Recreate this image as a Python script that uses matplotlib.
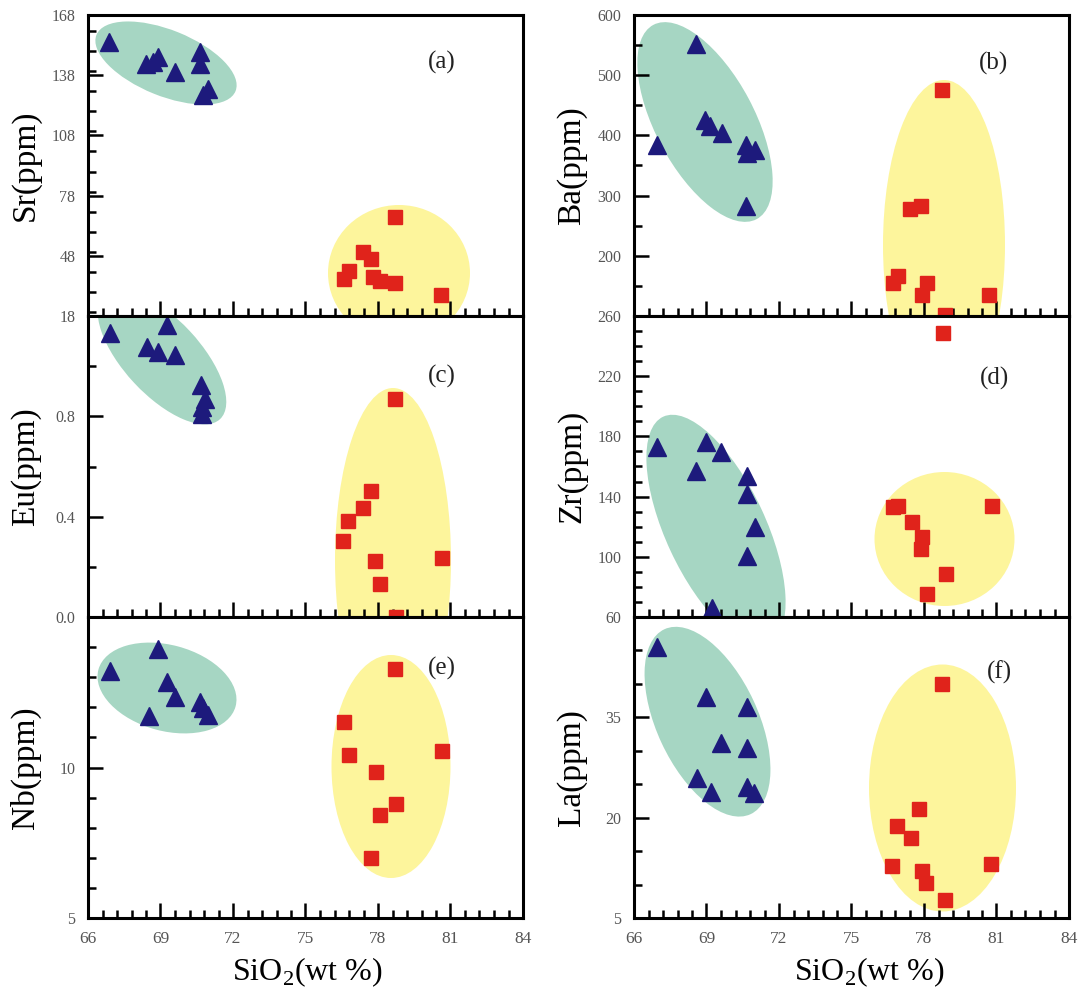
import matplotlib
matplotlib.use("Agg")
import matplotlib.pyplot as plt
from matplotlib.patches import Ellipse
from matplotlib.transforms import Affine2D
from matplotlib.ticker import MultipleLocator
import numpy as np

plt.rcParams['font.family'] = ['Liberation Serif', 'DejaVu Serif']
plt.rcParams['mathtext.fontset'] = 'custom'
plt.rcParams['mathtext.rm'] = 'Liberation Serif'

# ---------------- data (SiO2 wt% vs trace elements, ppm) ----------------
sr_tri_x = [66.86, 68.38, 68.67, 68.88, 69.62, 70.64, 70.64, 70.74, 70.95]
sr_tri_y = [154.7, 143.8, 144.7, 147.2, 139.7, 149.7, 143.8, 128.0, 131.3]
sr_sq_x = [78.70, 77.37, 77.70, 76.80, 76.58, 77.80, 78.08, 78.72, 80.62]
sr_sq_y = [67.2, 49.7, 46.3, 40.5, 36.3, 37.2, 35.5, 34.2, 28.5]

ba_tri_x = [68.57, 66.97, 68.93, 69.14, 69.64, 70.64, 70.69, 71.00, 70.64]
ba_tri_y = [552, 384, 426, 415, 404, 384, 370, 376, 283]
ba_sq_x = [78.74, 77.43, 77.86, 76.93, 76.71, 78.14, 77.93, 80.71, 78.86]
ba_sq_y = [475, 278, 282, 166, 155, 155, 135, 135, 102]

eu_tri_x = [66.91, 68.45, 68.88, 69.27, 69.62, 70.66, 70.85, 70.71, 70.71]
eu_tri_y = [1.131, 1.077, 1.057, 1.164, 1.044, 0.924, 0.871, 0.837, 0.811]
eu_sq_x = [78.70, 77.70, 77.37, 76.76, 76.56, 77.87, 78.08, 80.65, 78.75]
eu_sq_y = [0.869, 0.504, 0.435, 0.384, 0.304, 0.224, 0.131, 0.237, 0.0]

zr_tri_x = [66.97, 68.97, 69.61, 68.57, 70.69, 70.69, 71.00, 70.69, 69.21]
zr_tri_y = [172.9, 176.2, 169.6, 157.3, 154.0, 141.8, 120.0, 100.7, 66.2]
zr_sq_x = [78.80, 76.71, 76.93, 77.50, 77.93, 77.86, 78.89, 78.14, 80.83]
zr_sq_y = [248.4, 132.9, 134.0, 122.9, 112.9, 105.1, 88.9, 75.1, 134.0]

nb_tri_x = [66.91, 68.88, 69.28, 69.62, 68.52, 70.62, 70.74, 70.95]
nb_tri_y = [13.22, 13.95, 12.83, 12.35, 11.71, 12.16, 11.99, 11.74]
nb_sq_x = [78.70, 76.58, 76.80, 77.90, 80.65, 78.75, 78.08, 77.73]
nb_sq_y = [13.28, 11.52, 10.43, 9.84, 10.54, 8.80, 8.41, 6.98]

la_tri_x = [66.97, 68.96, 70.67, 69.60, 70.67, 68.59, 69.20, 70.67, 70.98]
la_tri_y = [45.5, 38.0, 36.5, 31.1, 30.4, 25.9, 23.9, 24.6, 23.7]
la_sq_x = [78.74, 77.81, 76.88, 77.45, 76.67, 77.92, 78.09, 78.87, 80.77]
la_sq_y = [40.0, 21.3, 18.8, 16.9, 12.7, 12.0, 10.2, 7.7, 13.1]

x_ticks = [66, 69, 72, 75, 78, 81, 84]
x_label = "SiO$_\\mathregular{2}$(wt %)"

panel_labels = ["(a)", "(b)", "(c)", "(d)", "(e)", "(f)"]
y_labels = ["Sr(ppm)", "Ba(ppm)", "Eu(ppm)", "Zr(ppm)", "Nb(ppm)", "La(ppm)"]

sr_ticks = [18, 48, 78, 108, 138, 168]
sr_ticklabels = ["18", "48", "78", "108", "138", "168"]
ba_ticks = [100, 200, 300, 400, 500, 600]
ba_ticklabels = ["", "200", "300", "400", "500", "600"]
eu_ticks = [0.0, 0.4, 0.8, 1.2]
eu_ticklabels = ["0.0", "0.4", "0.8", ""]
zr_ticks = [60, 100, 140, 180, 220, 260]
zr_ticklabels = ["60", "100", "140", "180", "220", "260"]
nb_ticks = [5, 10, 15]
nb_ticklabels = ["5", "10", ""]
la_ticks = [5, 20, 35, 50]
la_ticklabels = ["5", "20", "35", ""]

# ---------------- styling ----------------
TRI_COLOR = "#1d1a7c"
SQ_COLOR = "#e0231b"
GREEN = "#a6d6c3"
YELLOW = "#fdf59c"
TICK_COLOR = "#555555"

FIG_W, FIG_H = 1081, 996
fig = plt.figure(figsize=(FIG_W / 100, FIG_H / 100), dpi=100)

col_left = [88 / FIG_W, 634 / FIG_W]
ax_w = 435 / FIG_W
ax_h = 301 / FIG_H
row_bottom = [1 - 316 / FIG_H, 1 - 617 / FIG_H, 1 - 918 / FIG_H]

# panel specs: (tri_x, tri_y, sq_x, sq_y, ylim, ticks, ticklabels, minor step)
panels = [
    (sr_tri_x, sr_tri_y, sr_sq_x, sr_sq_y, (18, 168), sr_ticks, sr_ticklabels, 10),
    (ba_tri_x, ba_tri_y, ba_sq_x, ba_sq_y, (100, 600), ba_ticks, ba_ticklabels, 50),
    (eu_tri_x, eu_tri_y, eu_sq_x, eu_sq_y, (0.0, 1.2), eu_ticks, eu_ticklabels, 0.2),
    (zr_tri_x, zr_tri_y, zr_sq_x, zr_sq_y, (60, 260), zr_ticks, zr_ticklabels, 10),
    (nb_tri_x, nb_tri_y, nb_sq_x, nb_sq_y, (5, 15), nb_ticks, nb_ticklabels, 1),
    (la_tri_x, la_tri_y, la_sq_x, la_sq_y, (5, 50), la_ticks, la_ticklabels, 5),
]

# field ellipses in axes-pixel units: (cx, cy, half-axis a, half-axis b, angle deg)
fields = [
    [(78, 253, 75, 33, -22, GREEN), (311, 43, 71, 68, 0, YELLOW)],
    [(71, 194, 110, 49.5, -62, GREEN), (310, 71, 61, 165, 0, YELLOW)],
    [(74, 260, 85, 38, -47, GREEN), (305, 57, 58, 172, 0, YELLOW)],
    [(82, 87, 125, 50, -65, GREEN), (310.5, 78, 70, 67, 0, YELLOW)],
    [(79, 230, 71, 43, -15, GREEN), (303, 151.5, 59.5, 111.5, 0, YELLOW)],
    [(73.5, 196.3, 102, 50.6, -65, GREEN), (308.5, 130, 73.5, 123.5, 0, YELLOW)],
]

letter_pos = [(0.814, 0.844), (0.826, 0.84), (0.814, 0.80),
              (0.828, 0.794), (0.814, 0.83), (0.84, 0.817)]

axes = []
for i, spec in enumerate(panels):
    r, c = divmod(i, 2)
    ax = fig.add_axes([col_left[c], row_bottom[r], ax_w, ax_h])
    axes.append(ax)
    tx, ty, sx, sy, ylim, yt, ytl, ystep = spec

    # fields
    px_to_axes = Affine2D().scale(1 / 435, 1 / 301) + ax.transAxes
    for (cx, cy, a, b, ang, colr) in fields[i]:
        e = Ellipse((cx, cy), 2 * a, 2 * b, angle=ang, facecolor=colr,
                    edgecolor='none', transform=px_to_axes, zorder=1)
        ax.add_patch(e)

    ax.plot(tx, ty, linestyle='none', marker='^', markersize=12.5,
            color=TRI_COLOR, markeredgecolor=TRI_COLOR, zorder=5, clip_on=False)
    ax.plot(sx, sy, linestyle='none', marker='s', markersize=10.5,
            color=SQ_COLOR, markeredgecolor=SQ_COLOR, zorder=5, clip_on=False)

    ax.set_xlim(66, 84)
    ax.set_ylim(*ylim)
    ax.set_xticks(x_ticks)
    ax.xaxis.set_minor_locator(MultipleLocator(0.6))
    ax.set_yticks(yt)
    ax.set_yticklabels(ytl)
    ax.yaxis.set_minor_locator(MultipleLocator(ystep))

    ax.tick_params(axis='both', which='both', direction='in', top=False,
                   right=False, colors='black', labelcolor=TICK_COLOR)
    ax.tick_params(axis='both', which='major', length=10.5, width=1.8)
    ax.tick_params(axis='both', which='minor', length=5.5, width=1.8)
    ax.tick_params(axis='y', which='major', labelsize=11.5, pad=9)
    ax.tick_params(axis='x', which='major', labelsize=12.5, pad=9)
    if r < 2:
        ax.tick_params(axis='x', labelbottom=False)
    else:
        ax.set_xlabel(x_label, fontsize=23)
        ax.xaxis.set_label_coords(0.505 if c == 0 else 0.54, -0.125)

    for sp in ax.spines.values():
        sp.set_linewidth(2.2)
        sp.set_zorder(6)

    ax.set_ylabel(y_labels[i], fontsize=24)
    ax.yaxis.set_label_coords(-0.108, 0.5)

    ax.text(letter_pos[i][0], letter_pos[i][1], panel_labels[i],
            transform=ax.transAxes, fontsize=18, ha='center', va='center',
            color='#222222', zorder=7)

fig.savefig("out.png", dpi=100)
